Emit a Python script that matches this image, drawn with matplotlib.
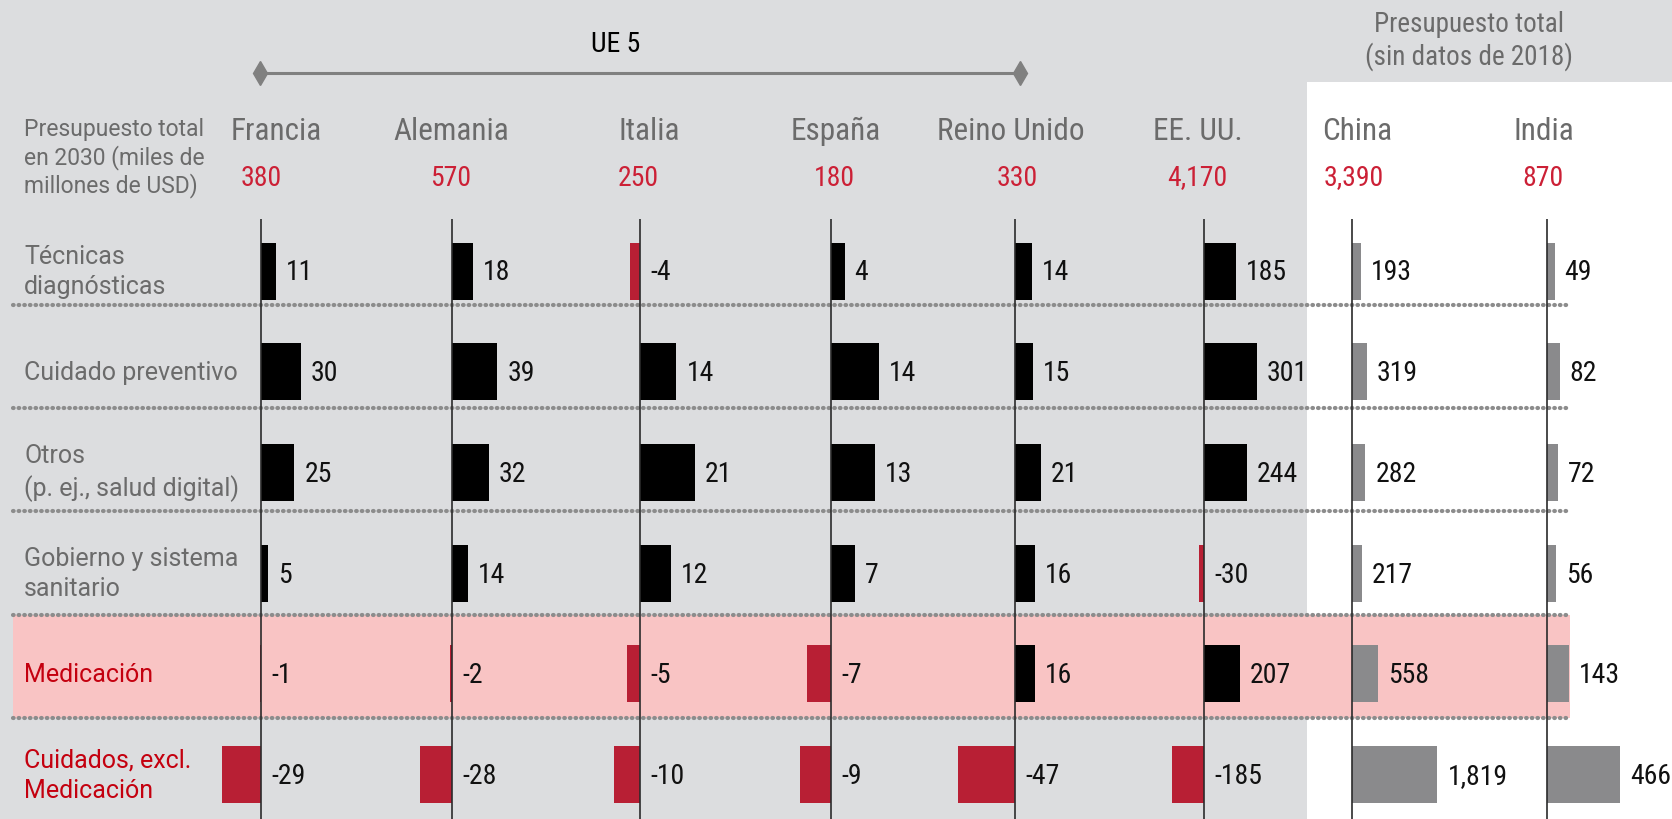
import matplotlib
matplotlib.use('Agg')
import matplotlib.pyplot as plt
from matplotlib.patches import Rectangle

# data
countries = ['Francia', 'Alemania', 'Italia', 'España', 'Reino Unido', 'EE. UU.', 'China', 'India']
totals = ['380', '570', '250', '180', '330', '4,170', '3,390', '870']
categories = ['Técnicas\ndiagnósticas', 'Cuidado preventivo', 'Otros\n(p. ej., salud digital)',
              'Gobierno y sistema\nsanitario', 'Medicación', 'Cuidados, excl.\nMedicación']
francia = [11, 30, 25, 5, -1, -29]
alemania = [18, 39, 32, 14, -2, -28]
italia = [-4, 14, 21, 12, -5, -10]
espana = [4, 14, 13, 7, -7, -9]
reino_unido = [14, 15, 21, 16, 16, -47]
eeuu = [185, 301, 244, -30, 207, -185]
china = [193, 319, 282, 217, 558, 1819]
india = [49, 82, 72, 56, 143, 466]
columns = [francia, alemania, italia, espana, reino_unido, eeuu, china, india]

# layout (pixels of the 1672x820 canvas)
W, H = 1672, 820
axis_x = [261, 452, 640, 831, 1015, 1204, 1352, 1547]
px_per_unit = [1.33, 1.16, 2.6, 3.4, 1.22, 0.175, 0.047, 0.156]
name_x = [276, 451, 649, 836, 1011, 1198, 1357, 1544]
total_x = [261, 451, 638, 834, 1017, 1197, 1354, 1543]
row_y = [272 + 100.7 * i for i in range(len(categories))]
sep_y = [306 + 103.2 * k for k in range(5)]

BG = '#dcdddf'
BLACK = '#000000'
RED_BAR = '#b81f34'
GRAY_BAR = '#8a8a8c'
RED_TXT = '#c4000f'
TOTAL_RED = '#cc2036'
GRAY_TXT = '#6b6b6b'
NARROW = ['Liberation Sans Narrow', 'DejaVu Sans Condensed', 'Roboto Condensed', 'Roboto']
ROBOTO = ['Roboto', 'DejaVu Sans']

fig = plt.figure(figsize=(W / 100, H / 100), dpi=100, facecolor=BG)

# background: white panel, pink band, dotted separators, headers
bg = fig.add_axes([0, 0, 1, 1])
bg.set_xlim(0, W)
bg.set_ylim(H, 0)
bg.axis('off')
bg.add_patch(Rectangle((1307, 83), W - 1307, H - 83, color='white', lw=0))
bg.add_patch(Rectangle((13, sep_y[3]), 1570 - 13, sep_y[4] - sep_y[3], color='#f9c4c4', lw=0))
for y in sep_y:
    bg.plot([13, 1571], [y, y], color='#8c8c8c', lw=3, ls=(0, (0.15, 1.2)),
            dash_capstyle='round')

bg.plot([260, 1020], [74, 74], color='#808080', lw=2.2)
bg.plot([260, 1020], [74, 74], ls='', marker='d', ms=12, color='#808080')
bg.text(616, 44, 'UE 5', fontsize=20, family=NARROW, color='black', ha='center', va='center')
bg.text(1469, 25, 'Presupuesto total', fontsize=19.5, family=NARROW, color=GRAY_TXT,
        ha='center', va='center')
bg.text(1469, 57, '(sin datos de 2018)', fontsize=19.5, family=NARROW, color=GRAY_TXT,
        ha='center', va='center')
bg.text(24, 158, 'Presupuesto total\nen 2030 (miles de\nmillones de USD)', fontsize=16.5,
        family=ROBOTO, color=GRAY_TXT, ha='left', va='center', linespacing=1.2)

for name, nx, tot, tx in zip(countries, name_x, totals, total_x):
    bg.text(nx, 131, name, fontsize=22.5, family=NARROW, color=GRAY_TXT, ha='center', va='center')
    bg.text(tx, 178, tot, fontsize=20, family=NARROW, color=TOTAL_RED, ha='center', va='center')

for i, (cat, y) in enumerate(zip(categories, row_y)):
    col = RED_TXT if i >= 4 else GRAY_TXT
    bg.text(24, y, cat, fontsize=18, family=ROBOTO, color=col, ha='left', va='center',
            linespacing=1.35)

# one axes per country, each with its own scale
L, R = 70, 150
for j, (vals, x0, s) in enumerate(zip(columns, axis_x, px_per_unit)):
    ax = fig.add_axes([(x0 - L) / W, 0, (L + R) / W, (H - 220) / H])
    ax.set_facecolor('none')
    ax.set_xlim(-L / s, R / s)
    ax.set_ylim(H, 220)
    ax.axis('off')
    if j >= 6:
        colors = [GRAY_BAR] * len(vals)
    else:
        colors = [BLACK if v > 0 else RED_BAR for v in vals]
    ax.barh(row_y, vals, height=57, color=colors, lw=0)
    ax.axvline(0, color='#2b2b2b', lw=1.2)
    for v, y in zip(vals, row_y):
        x = (max(v, 0) * s + 10) / s
        ax.text(x, y + 1, f'{v:,}', fontsize=20, family=NARROW, color='#111111',
                ha='left', va='center', clip_on=False)

fig.savefig('out.png', dpi=100, facecolor=BG)
